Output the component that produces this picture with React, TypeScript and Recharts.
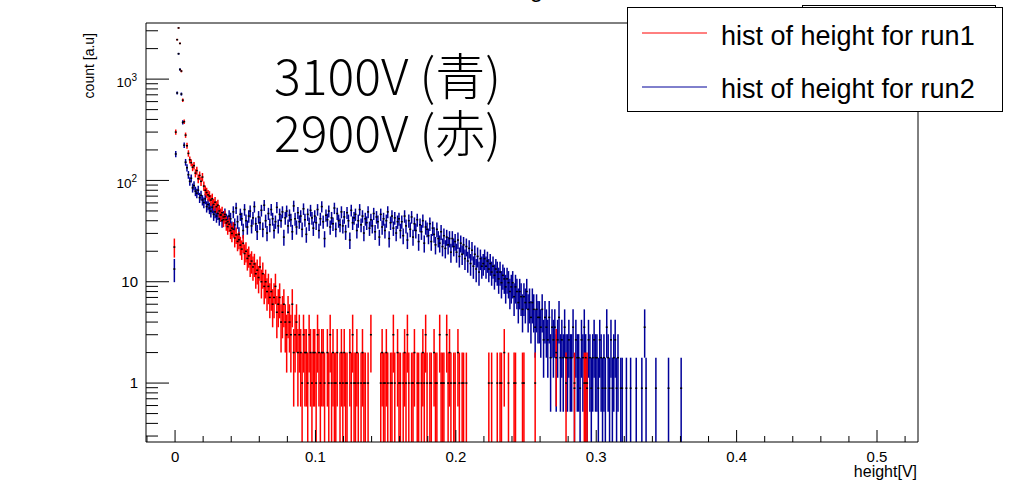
import { ScatterChart, Scatter, XAxis, YAxis, ErrorBar, ReferenceLine, Legend } from 'recharts'

const FONT = '"Liberation Sans", Arial, Helvetica, sans-serif'
const JP_FONT = '"Noto Sans CJK JP", "Noto Sans", sans-serif'

// histogram binning: 1 mV bins, first bin centred at -0.5 mV
const BIN_WIDTH = 0.001
const FIRST_BIN = -0.0005
// run2 is drawn normalised (one entry = 0.89 a.u.)
const RUN2_NORM = 0.89

// run1 (2900V) counts per bin
const run1Counts = [
  22, 300, 2450, 3200, 2250, 1200, 620, 380, 280, 220, 185, 160, 150, 135, 140, 118, 125, 104, 112, 98,
  108, 88, 80, 76, 72, 70, 64, 66, 58, 61, 55, 57, 50, 46, 48, 41, 44, 38, 35, 37,
  32, 30, 33, 27, 29, 25, 26, 23, 21, 24, 19, 20, 17, 18, 15, 16, 14, 15, 12, 13,
  11, 14, 10, 12, 9, 10, 8, 9, 7, 8, 6, 7, 9, 5, 6, 7, 4, 5, 6, 4,
  3, 5, 4, 3, 6, 2, 3, 4, 2, 3, 2, 1, 3, 2, 2, 1, 3, 2, 1, 2,
  2, 1, 3, 2, 1, 2, 2, 1, 0, 2, 1, 3, 1, 2, 1, 1, 2, 0, 1, 2,
  1, 2, 1, 1, 0, 2, 1, 3, 1, 1, 2, 1, 0, 1, 2, 1, 1, 0, 1, 0,
  3, 0, 0, 0, 0, 0, 0, 1, 2, 1, 1, 2, 1, 0, 1, 1, 3, 1, 0, 2,
  1, 1, 0, 1, 2, 1, 3, 1, 0, 1, 1, 2, 0, 1, 1, 0, 1, 2, 1, 3,
  1, 0, 1, 1, 0, 2, 1, 1, 0, 3, 1, 1, 1, 0, 3, 1, 2, 1, 0, 1,
  1, 0, 2, 1, 0, 1, 1, 0, 1, 0, 0, 0, 0, 0, 0, 0, 0, 0, 0, 0,
  0, 0, 0, 0, 1, 0, 1, 0, 0, 0, 1, 0, 1, 1, 0, 2, 0, 0, 1, 0,
  0, 0, 1, 1, 0, 0, 0, 0, 1, 1, 0, 0, 0, 0, 0, 0, 0, 1, 0, 0,
  0, 0, 0, 0, 0, 0, 0, 0, 0, 0, 0, 0, 2, 0, 0, 0, 0, 0, 0, 1,
  0, 0, 0, 0, 0, 1, 0, 0, 0, 0, 0, 0, 1, 1, 1,
]

// run2 (3100V) counts per bin
const run2Counts = [
  15, 205, 820, 2000, 1400, 800, 420, 250, 170, 150, 128, 110, 118, 95, 100, 88, 84, 90, 76, 80,
  72, 68, 74, 62, 65, 60, 56, 61, 52, 55, 50, 53, 47, 51, 45, 49, 52, 46, 44, 50,
  47, 38, 55, 41, 60, 44, 33, 52, 47, 36, 58, 45, 39, 50, 56, 40, 48, 62, 42, 35,
  49, 43, 57, 37, 64, 45, 34, 53, 41, 58, 47, 36, 44, 61, 40, 52, 45, 55, 31, 48,
  56, 40, 51, 46, 35, 63, 47, 39, 54, 44, 50, 37, 59, 46, 33, 52, 42, 57, 48, 38,
  50, 43, 58, 36, 47, 62, 44, 30, 51, 46, 56, 39, 48, 42, 60, 37, 53, 45, 41, 55,
  40, 49, 35, 54, 45, 29, 57, 43, 48, 52, 36, 45, 58, 41, 50, 34, 47, 43, 55, 38,
  46, 40, 53, 35, 49, 44, 31, 52, 39, 47, 36, 45, 55, 30, 43, 50, 38, 48, 34, 44,
  47, 36, 44, 32, 50, 40, 29, 45, 37, 49, 31, 42, 36, 46, 28, 41, 35, 45, 27, 39,
  37, 32, 42, 28, 38, 33, 26, 37, 30, 27, 35, 25, 32, 24, 31, 26, 30, 22, 30, 25,
  28, 22, 29, 20, 27, 21, 26, 19, 25, 18, 24, 17, 23, 16, 21, 15, 20, 14, 19, 16,
  17, 19, 16, 18, 15, 17, 14, 16, 13, 15, 14, 12, 14, 11, 13, 12, 10, 12, 11, 9,
  10, 11, 8, 10, 9, 7, 9, 8, 6, 8, 7, 9, 6, 7, 5, 7, 6, 4, 6, 5,
  5, 4, 6, 3, 5, 4, 3, 5, 2, 4, 3, 4, 2, 3, 5, 2, 3, 2, 4, 2,
  2, 3, 2, 2, 4, 1, 3, 2, 2, 1, 3, 2, 4, 2, 1, 3, 2, 1, 2, 3,
  2, 2, 1, 3, 2, 1, 2, 1, 4, 2, 1, 3, 1, 2, 3, 1, 2, 0, 1, 1,
  0, 0, 1, 0, 0, 1, 0, 0, 0, 1, 0, 0, 0, 1, 0, 4, 1, 0, 0, 0,
  0, 0, 0, 1, 0, 0, 0, 0, 0, 0, 0, 0, 1, 0, 0, 0, 0, 0, 0, 0,
  0, 1,
]

const xDomain = [-0.0207, 0.5292]
const yDomain = [0.262, 3580]

const xTicks = [-0.02, 0, 0.02, 0.04, 0.06, 0.08, 0.1, 0.12, 0.14, 0.16, 0.18, 0.2, 0.22, 0.24, 0.26, 0.28, 0.3,
  0.32, 0.34, 0.36, 0.38, 0.4, 0.42, 0.44, 0.46, 0.48, 0.5, 0.52]
const xMajorTicks = [0, 0.1, 0.2, 0.3, 0.4, 0.5]
const xMajorLabels = ['0', '0.1', '0.2', '0.3', '0.4', '0.5']

const yTicks = [0.3, 0.4, 0.5, 0.6, 0.7, 0.8, 0.9, 1, 2, 3, 4, 5, 6, 7, 8, 9, 10, 20, 30, 40, 50, 60, 70, 80, 90,
  100, 200, 300, 400, 500, 600, 700, 800, 900, 1000, 2000, 3000]
const yDecades = [1, 10, 100, 1000]
const yDecadeLabels = [['1', ''], ['10', ''], ['10', '2'], ['10', '3']]

function toPoints(counts: number[], norm: number) {
  return counts
    .map((n, i) => ({ x: FIRST_BIN + i * BIN_WIDTH, n }))
    .filter((p) => p.n > 0)
    .map((p) => {
      const y = p.n * norm
      const e = Math.sqrt(p.n) * norm
      const lo = Math.max(y - e, yDomain[0]) // zero lower edge -> stop at the frame
      return { x: p.x, y, err: [y - lo, e] }
    })
}

const run1Points = toPoints(run1Counts, 1)
const run2Points = toPoints(run2Counts, RUN2_NORM)

const near = (a: number, b: number) => Math.abs(a - b) < 1e-9

function XTick({ x, y, payload }: any) {
  const idx = xMajorTicks.findIndex((t) => near(t, payload.value))
  const major = idx >= 0
  return (
    <g>
      <line x1={x} x2={x} y1={y} y2={y - (major ? 12 : 6)} stroke="#000" />
      {major && (
        <text x={x} y={y + 20} textAnchor="middle" fontSize={15} fontFamily={FONT} fill="#000">
          {xMajorLabels[idx]}
        </text>
      )}
    </g>
  )
}

function YTick({ x, y, payload }: any) {
  const idx = yDecades.findIndex((t) => near(t, payload.value))
  const major = idx >= 0
  const [base, exp] = major ? yDecadeLabels[idx] : ['', '']
  return (
    <g>
      <line x1={x} x2={x + (major ? 23 : 12)} y1={y} y2={y} stroke="#000" />
      {major && !exp && (
        <text x={x - 8} y={y + 5} textAnchor="end" fontSize={15} fontFamily={FONT} fill="#000">
          {base}
        </text>
      )}
      {major && exp && (
        <text x={x - 9} y={y + 8} textAnchor="end" fontSize={13.5} fontFamily={FONT} fill="#000">
          {base}
          <tspan dy={-6} fontSize={10}>{exp}</tspan>
        </text>
      )}
    </g>
  )
}

function Dot({ cx, cy }: any) {
  if (cx == null || cy == null) return <g />
  return <rect x={cx - 1} y={cy - 0.75} width={2} height={1.5} fill="#000" />
}

function LegendBox() {
  return (
    <svg width={377} height={106} style={{ display: 'block' }}>
      <rect x={0.5} y={0.5} width={375} height={104} fill="#fff" stroke="#000" />
      <line x1={15} x2={80} y1={26} y2={26} stroke="#ff0000" />
      <text x={94} y={38} fontSize={27} fontFamily={FONT} fill="#000">hist of height for run1</text>
      <line x1={15} x2={80} y1={80} y2={80} stroke="#000099" />
      <text x={94} y={91} fontSize={27} fontFamily={FONT} fill="#000">hist of height for run2</text>
    </svg>
  )
}

export default function App() {
  return (
    <div style={{ position: 'absolute', left: 0, top: 0, width: 1013, height: 481, background: '#fff', overflow: 'hidden' }}>
      {/* stats box, mostly hidden behind the legend */}
      <div style={{ position: 'absolute', left: 802, top: 5, width: 192, height: 60, border: '1px solid #000', background: '#fff' }} />
      <div style={{ position: 'absolute', left: 0, top: 0 }}>
        <ScatterChart width={1013} height={481} margin={{ top: 23, right: 95, bottom: 0, left: 86 }}>
          <XAxis
            type="number"
            dataKey="x"
            domain={xDomain}
            allowDataOverflow
            ticks={xTicks}
            interval={0}
            tickLine={false}
            tickSize={0}
            tickMargin={0}
            tick={<XTick />}
            axisLine={{ stroke: '#000' }}
            height={39}
          />
          <YAxis
            type="number"
            dataKey="y"
            scale="log"
            domain={yDomain}
            allowDataOverflow
            ticks={yTicks}
            interval={0}
            tickLine={false}
            tickSize={0}
            tickMargin={0}
            tick={<YTick />}
            axisLine={{ stroke: '#000' }}
            width={60}
          />
          <ReferenceLine y={yDomain[1]} stroke="#000" ifOverflow="visible" />
          <ReferenceLine x={xDomain[1]} stroke="#000" ifOverflow="visible" />
          <Scatter name="hist of height for run2" data={run2Points} dataKey="y" fill="#000" shape={<Dot />} isAnimationActive={false}>
            <ErrorBar dataKey="err" direction="y" width={0} stroke="#000099" strokeWidth={1.5} />
          </Scatter>
          <Scatter name="hist of height for run1" data={run1Points} dataKey="y" fill="#000" shape={<Dot />} isAnimationActive={false}>
            <ErrorBar dataKey="err" direction="y" width={0} stroke="#ff0000" strokeWidth={1.5} />
          </Scatter>
          <Legend
            layout="horizontal"
            verticalAlign="middle"
            align="center"
            content={<LegendBox />}
            wrapperStyle={{ left: 627, top: 7, width: 377, height: 106 }}
          />
        </ScatterChart>
      </div>
      <svg width={1013} height={481} style={{ position: 'absolute', left: 0, top: 0, pointerEvents: 'none' }}>
        <text x={563} y={-3} textAnchor="end" fontSize={24} fontFamily={FONT} fill="#000">hist of height</text>
        <text x={274} y={95} fontSize={50} fontWeight={300} fontFamily={JP_FONT} fill="#000">3100V (青)</text>
        <text x={274} y={152} fontSize={50} fontWeight={300} fontFamily={JP_FONT} fill="#000">2900V (赤)</text>
        <text x={94} y={33} transform="rotate(-90 94 33)" textAnchor="end" fontSize={14} fontFamily={FONT} fill="#000">count [a.u]</text>
        <text x={917} y={477} textAnchor="end" fontSize={16} fontFamily={FONT} fill="#000">height[V]</text>
      </svg>
    </div>
  )
}
